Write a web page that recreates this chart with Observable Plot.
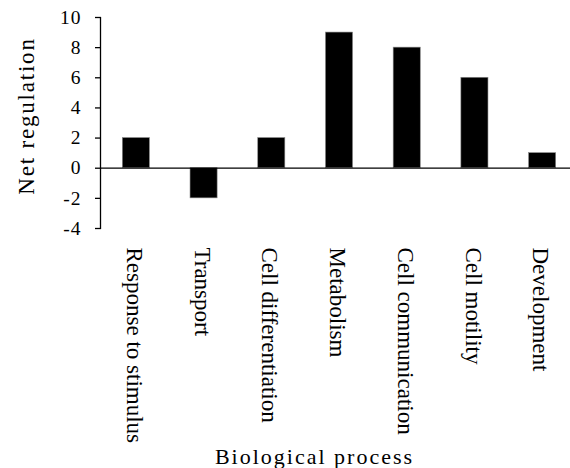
<!DOCTYPE html>
<html>
<head>
<meta charset="utf-8">
<script src="https://cdn.jsdelivr.net/npm/d3@7"></script>
<script src="https://cdn.jsdelivr.net/npm/@observablehq/plot@0.6"></script>
<style>
  html, body { margin: 0; padding: 0; background: #fff; }
  svg { display: block; }
</style>
</head>
<body>
<div id="chart"></div>
<script>
const categories = ["Response to stimulus", "Transport", "Cell differentiation", "Metabolism", "Cell communication", "Cell motility", "Development"];
const values = [2, -2, 2, 9, 8, 6, 1];
const yTicks = [-4, -2, 0, 2, 4, 6, 8, 10];
const yLabel = "Net regulation";
const xLabel = "Biological process";

const data = categories.map((c, i) => ({category: c, value: values[i]}));
const font = "'Liberation Serif', 'Times New Roman', serif";

const chart = Plot.plot({
  width: 570,
  height: 468,
  marginLeft: 100,
  marginRight: 0,
  marginTop: 17,
  marginBottom: 240,
  style: {fontFamily: font, color: "#000", background: "#fff"},
  x: {domain: categories, range: [102, 576], paddingInner: 0.6, paddingOuter: 0.3, round: false, axis: null},
  y: {domain: [-4, 10], axis: null},
  marks: [
    Plot.barY(data, {x: "category", y: "value", fill: "#000", stroke: "#888", strokeWidth: 0.6}),
    Plot.ruleY([0], {stroke: "#000", strokeWidth: 1.2}),
    Plot.axisY(yTicks, {anchor: "left", tickSize: 5, stroke: "#000", strokeWidth: 1.3, text: null, label: null}),
    Plot.text(yTicks, {y: d => d, text: d => String(d), frameAnchor: "left", textAnchor: "end", lineAnchor: "middle", dx: -19, fontSize: 19.5, fill: "#000"}),
    Plot.frame({anchor: "left", stroke: "#000", strokeWidth: 1.3}),
    Plot.text(categories, {x: d => d, text: d => d, frameAnchor: "bottom", rotate: 90, textAnchor: "start", lineAnchor: "middle", dx: -2, dy: 19, fontSize: 23, fill: "#000"}),
    Plot.text([yLabel], {text: d => d, frameAnchor: "left", rotate: -90, textAnchor: "middle", lineAnchor: "middle", dx: -74, dy: -7, fontSize: 23, fill: "#000"}),
    Plot.text([xLabel], {text: d => d, frameAnchor: "bottom", textAnchor: "middle", lineAnchor: "bottom", dx: -21, dy: 235, fontSize: 22, fill: "#000"})
  ]
});
// letter spacing for axis titles (matches the wide-set lettering of the original)
d3.select(chart).selectAll("text").each(function() {
  const t = this.textContent;
  if (t === yLabel) this.setAttribute("letter-spacing", "1.8");
  if (t === xLabel) this.setAttribute("letter-spacing", "2");
  if (yTicks.map(String).includes(t)) this.setAttribute("letter-spacing", "1");
});
document.getElementById("chart").appendChild(chart);
</script>
</body>
</html>
